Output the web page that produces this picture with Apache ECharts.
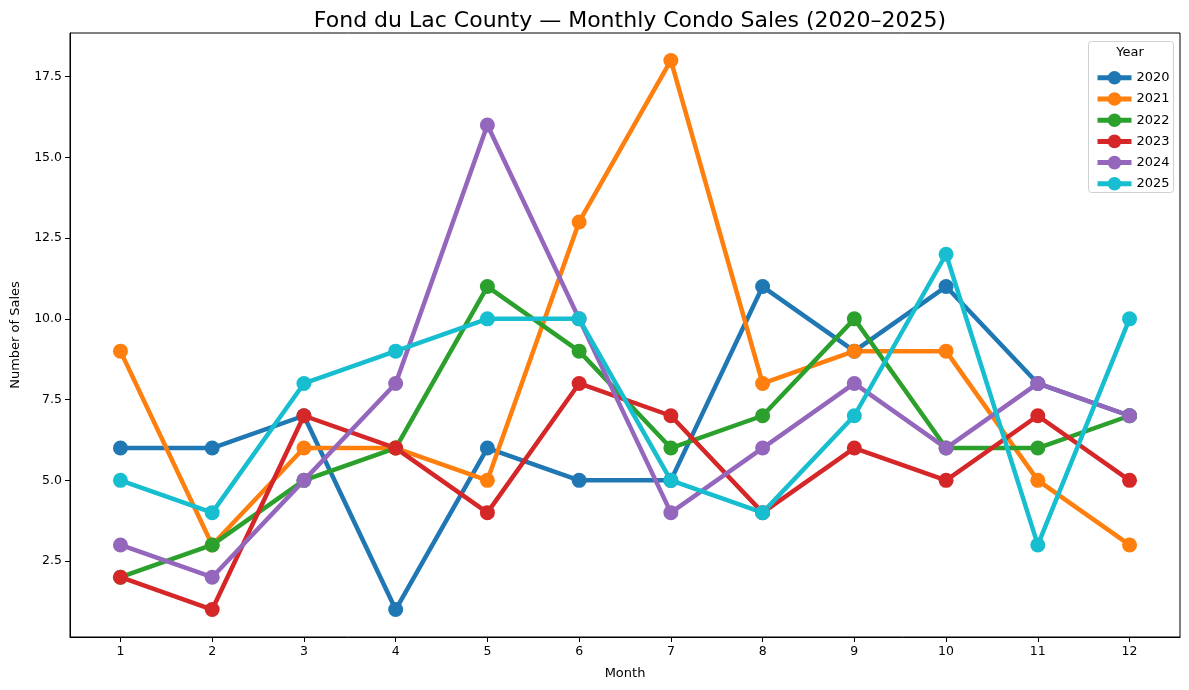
<!DOCTYPE html>
<html>
<head>
<meta charset="utf-8">
<script src="https://cdn.jsdelivr.net/npm/echarts@6/dist/echarts.min.js"></script>
<style>html,body{margin:0;padding:0;background:#fff}#c{width:1189px;height:690px}</style>
</head>
<body>
<div id="c"></div>
<script>
const months = [1,2,3,4,5,6,7,8,9,10,11,12];
const years = ['2020','2021','2022','2023','2024','2025'];
const s2020 = [6,6,7,1,6,5,5,11,9,11,8,7];
const s2021 = [9,3,6,6,5,13,18,8,9,9,5,3];
const s2022 = [2,3,5,6,11,9,6,7,10,6,6,7];
const s2023 = [2,1,7,6,4,8,7,4,6,5,7,5];
const s2024 = [3,2,5,8,16,10,4,6,8,6,8,7];
const s2025 = [5,4,8,9,10,10,5,4,7,12,3,10];
const yTicks = [2.5,5,7.5,10,12.5,15,17.5];
const colors = ['#1f77b4','#ff7f0e','#2ca02c','#d62728','#9467bd','#17becf'];
const allSeries = [s2020,s2021,s2022,s2023,s2024,s2025];

const font = 'DejaVu Sans';
const chart = echarts.init(document.getElementById('c'));
chart.setOption({
  animation: false,
  backgroundColor: '#fff',
  textStyle: {fontFamily: font},
  title: {
    text: 'Fond du Lac County — Monthly Condo Sales (2020–2025)',
    left: 625, top: 5, textAlign: 'center',
    textStyle: {fontFamily: font, fontSize: 22, fontWeight: 'normal', color: '#000'}
  },
  grid: {left: 70, right: 9, top: 33, bottom: 53, show: true, borderColor: '#000', borderWidth: 1},
  xAxis: {
    type: 'value', min: 0.45, max: 12.55,
    name: 'Month', nameLocation: 'middle', nameGap: 30,
    nameTextStyle: {fontFamily: font, fontSize: 13, color: '#000'},
    axisLine: {show: true, lineStyle: {color: '#000'}},
    axisTick: {show: true, length: 5, lineStyle: {color: '#000'}, customValues: months},
    axisLabel: {fontFamily: font, fontSize: 12.5, color: '#000', margin: 8, customValues: months},
    splitLine: {show: false}
  },
  yAxis: {
    type: 'value', min: 0.15, max: 18.85,
    name: 'Number of Sales', nameLocation: 'middle', nameGap: 48,
    nameTextStyle: {fontFamily: font, fontSize: 13, color: '#000'},
    axisLine: {show: true, lineStyle: {color: '#000'}},
    axisTick: {show: true, length: 5, lineStyle: {color: '#000'}, customValues: yTicks},
    axisLabel: {fontFamily: font, fontSize: 12.5, color: '#000', margin: 8, customValues: yTicks,
      formatter: v => Number(v).toFixed(1)},
    splitLine: {show: false}
  },
  legend: {
    orient: 'vertical', left: 1090, top: 66, z: 200,
    itemWidth: 34, itemHeight: 17, itemGap: 7.6,
    lineStyle: {width: 5},
    textStyle: {fontFamily: font, fontSize: 13, color: '#000'},
    data: years
  },
  graphic: [
    {type: 'rect', z: 150, shape: {x: 1088.5, y: 41.5, width: 85, height: 151, r: 3},
     style: {fill: 'rgba(255,255,255,0.8)', stroke: '#d0d0d0', lineWidth: 1}},
    {type: 'text', z: 151, x: 1130, y: 46,
     style: {text: 'Year', fontFamily: font, fontSize: 13, fill: '#000', textAlign: 'center'}}
  ],
  series: years.map((y, i) => ({
    name: y, type: 'line',
    data: months.map((m, j) => [m, allSeries[i][j]]),
    symbol: 'circle', symbolSize: 15,
    lineStyle: {width: 4.5, color: colors[i]},
    itemStyle: {color: colors[i]},
    emphasis: {disabled: true}
  }))
});
</script>
</body>
</html>
